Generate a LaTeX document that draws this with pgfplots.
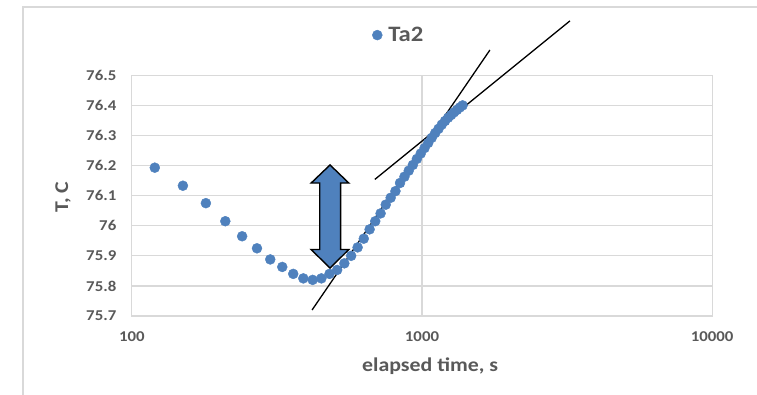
\documentclass[border=0pt]{standalone}
\usepackage{pgfplots}
\pgfplotsset{compat=1.18}
\usepackage{pgfplotstable}
\usepackage{fontspec}
\setmainfont{Carlito}[FakeStretch=1.12]
\definecolor{txt}{HTML}{595959}
\definecolor{grd}{HTML}{D9D9D9}
\definecolor{blu}{HTML}{4F81BD}
\pgfplotstableread{
t T
120 76.193
150 76.133
180 76.075
210 76.015
240 75.965
270 75.925
300 75.888
330 75.863
360 75.840
390 75.825
420 75.820
450 75.825
480 75.840
510 75.853
540 75.875
570 75.900
600 75.928
630 75.957
660 75.988
690 76.015
720 76.041
750 76.070
780 76.093
810 76.115
840 76.142
870 76.163
900 76.183
930 76.202
960 76.222
990 76.240
1020 76.258
1050 76.275
1080 76.292
1110 76.308
1140 76.322
1170 76.336
1200 76.348
1230 76.359
1260 76.368
1290 76.377
1320 76.385
1350 76.393
1380 76.400
}\tadata
\begin{document}
\begin{tikzpicture}[x=1pt,y=1pt]
\useasboundingbox (-131.8,-79) rectangle (625.2,316);
\draw[grd, line width=1.3pt] (-108.8,-80) -- (-108.8,309) -- (626,309);
\begin{axis}[at={(0,0)}, anchor=south west, scale only axis,
  width=580.4pt, height=240.7pt,
  xmode=log, log basis x=10, xmin=100, xmax=10000,
  ymin=75.7, ymax=76.5,
  xtick={100,1000,10000}, xticklabels={100,1000,10000},
  xminorticks=false,
  ytick={75.7,75.8,75.9,76,76.1,76.2,76.3,76.4,76.5},
  yticklabels={75.7,75.8,75.9,76,76.1,76.2,76.3,76.4,76.5},
  /pgf/number format/assume math mode=true,
  grid=major, major grid style={grd, line width=1.3pt},
  axis line style={grd, line width=1.3pt},
  major tick length=0pt, minor tick length=0pt,
  tick label style={font=\fontsize{15}{15}\selectfont\bfseries, text=txt},
  yticklabel style={xshift=-12pt},
  xticklabel style={yshift=-12pt},
  xlabel={elapsed time, s}, ylabel={T, C},
  label style={font=\fontsize{19.5}{19.5}\selectfont\bfseries, text=txt},
  xlabel style={at={(axis description cs:0.514,-0.21)}, anchor=center},
  ylabel style={at={(axis description cs:-0.1185,0.494)}, anchor=center},
  legend style={at={(axis description cs:0.46,1.167)}, anchor=center,
    draw=none, fill=none, font=\fontsize{22}{22}\selectfont\bfseries, text=txt,
    legend cell align=left},
  legend image code/.code={\draw[#1] plot coordinates {(0cm,0cm)};},
  clip=false,
]
\addplot[only marks, mark=*, mark size=5pt, color=blu, mark options={draw=blu, fill=blu}] table[x=t, y=T] {\tadata};
\addlegendentry{\hspace{4pt}Ta2}
\addplot[black, line width=1.3pt, forget plot] coordinates {(418,75.72) (1714,76.584)};
\addplot[black, line width=1.3pt, forget plot] coordinates {(688,76.154) (3236,76.681)};
\draw[fill=blu, draw=black, line width=1.4pt, line join=miter]
  (axis cs:482,76.202) -- (axis cs:559.3,76.142) -- (axis cs:524,76.142)
  -- (axis cs:524,75.921) -- (axis cs:559.3,75.921) -- (axis cs:482,75.859)
  -- (axis cs:415,75.921) -- (axis cs:444.2,75.921) -- (axis cs:444.2,76.142)
  -- (axis cs:415,76.142) -- cycle;
\end{axis}
\end{tikzpicture}
\end{document}
